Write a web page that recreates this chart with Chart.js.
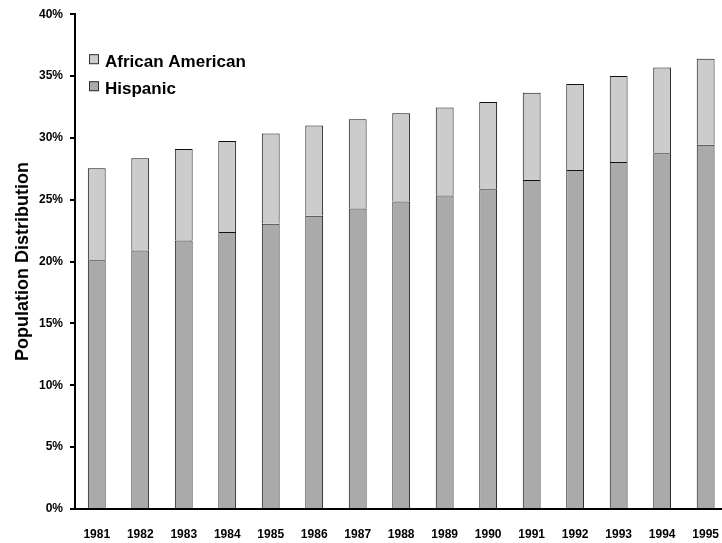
<!DOCTYPE html>
<html>
<head>
<meta charset="utf-8">
<script src="https://cdn.jsdelivr.net/npm/chart.js@4/dist/chart.umd.min.js"></script>
<style>
  html, body { margin: 0; padding: 0; background: #fff; overflow: hidden; }
  canvas { display: block; }
</style>
</head>
<body>
<canvas id="chart" width="729" height="543"></canvas>
<script>
// Share of the population, by year (percent)
const years = ['1981','1982','1983','1984','1985','1986','1987','1988','1989','1990','1991','1992','1993','1994','1995'];
const hispanic = [20.1, 20.9, 21.7, 22.4, 23.05, 23.7, 24.3, 24.85, 25.35, 25.85, 26.6, 27.4, 28.05, 28.75, 29.45];
const africanAmerican = [7.45, 7.45, 7.4, 7.35, 7.3, 7.3, 7.2, 7.15, 7.1, 7.05, 7.05, 6.95, 6.95, 6.95, 6.95];
const yTicks = [0, 5, 10, 15, 20, 25, 30, 35, 40];

const FONT = '"Liberation Sans", Arial, sans-serif';

// Legend drawn inside the plot area, top-left, last series first
const insideLegend = {
  id: 'insideLegend',
  afterDraw(chart) {
    const ctx = chart.ctx;
    const a = chart.chartArea;
    const sets = chart.data.datasets.slice().reverse();
    ctx.save();
    ctx.font = 'bold 17px ' + FONT;
    ctx.textBaseline = 'middle';
    sets.forEach((ds, i) => {
      const y = a.top + 48 + i * 27;
      const x = a.left + 14;
      ctx.fillStyle = ds.backgroundColor;
      ctx.fillRect(x, y - 8, 10, 10);
      ctx.strokeStyle = '#333';
      ctx.lineWidth = 1;
      ctx.strokeRect(x + 0.5, y - 7.5, 9, 9);
      ctx.fillStyle = '#000';
      ctx.fillText(ds.label, x + 16, y);
    });
    ctx.restore();
  }
};

new Chart(document.getElementById('chart'), {
  type: 'bar',
  data: {
    labels: years,
    datasets: [
      { label: 'Hispanic', data: hispanic, backgroundColor: '#aaaaaa', borderColor: '#111', borderWidth: 1 },
      { label: 'African American', data: africanAmerican, backgroundColor: '#cccccc', borderColor: '#111', borderWidth: 1 }
    ]
  },
  options: {
    responsive: false,
    animation: false,
    devicePixelRatio: 1,
    categoryPercentage: 1,
    barPercentage: 0.41,
    layout: { padding: { top: 13, right: 0, bottom: 0, left: 0 } },
    plugins: {
      legend: { display: false },
      tooltip: { enabled: false }
    },
    scales: {
      x: {
        stacked: true,
        grid: { display: false },
        border: { display: true, color: '#000', width: 2 },
        ticks: {
          color: '#000',
          font: { family: FONT, size: 12, weight: 'bold' },
          padding: 10,
          maxRotation: 0,
          autoSkip: false
        },
        afterFit(scale) { scale.height = 34; }
      },
      y: {
        stacked: true,
        min: 0,
        max: 40,
        afterBuildTicks(scale) { scale.ticks = yTicks.map(v => ({ value: v })); },
        grid: { drawOnChartArea: false, drawTicks: true, tickLength: 5, color: '#000', lineWidth: 2 },
        border: { display: true, color: '#000', width: 2 },
        ticks: {
          color: '#000',
          font: { family: FONT, size: 12, weight: 'bold' },
          padding: 7,
          callback: v => v + '%'
        },
        title: {
          display: true,
          text: 'Population Distribution',
          color: '#000',
          font: { family: FONT, size: 18, weight: 'bold' },
          padding: { top: 12, bottom: 2 }
        },
        afterFit(scale) { scale.width = 75; }
      }
    }
  },
  plugins: [insideLegend]
});
</script>
</body>
</html>
